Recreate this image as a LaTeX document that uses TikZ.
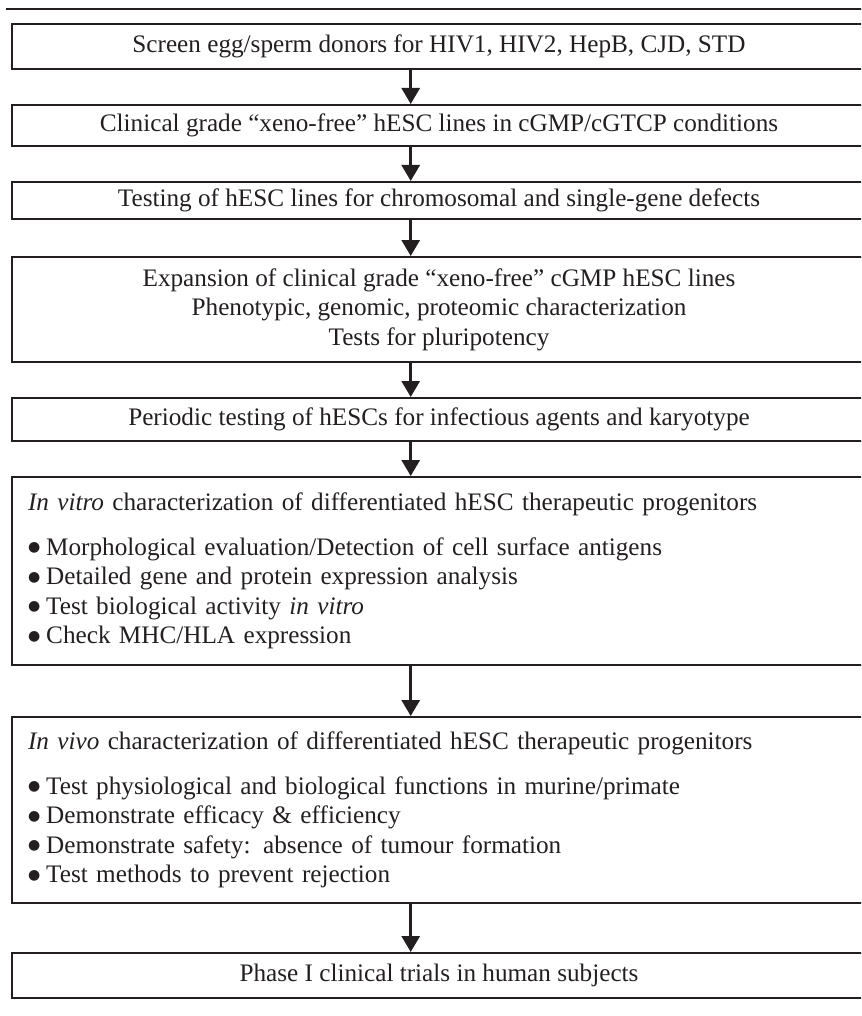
\documentclass[tikz,border=0pt]{standalone}
\usepackage{fontspec}
\setmainfont{Liberation Serif}
\newfontfamily\symfont{DejaVu Sans}
\newcommand\bul{\raisebox{3.5pt}{\symfont\fontsize{14}{14}\selectfont ●}\hspace{6pt}}
\usetikzlibrary{arrows.meta}
\definecolor{ink}{HTML}{231F20}
\begin{document}
\begin{tikzpicture}[x=1pt,y=-1pt,
  box/.style={draw=ink,line width=2pt,rectangle,inner sep=0pt,minimum width=854pt,
    text=ink,font=\fontsize{25.2}{29.5}\selectfont,align=center},
  listbox/.style={box,align=left,text width=822pt},
  arr/.style={draw=ink,line width=3pt,-{Triangle[width=18pt,length=16pt]}},
  rulel/.style={draw=ink,line width=2pt}]
\useasboundingbox (0,0) rectangle (861,1016);
\clip (0,0) rectangle (861,1016);
\coordinate (tl) at (6,9);
\coordinate (tr) at (880,9);
\draw[rulel] (tl) -- (tr);
\node[box,minimum height=45pt] (b1) at (439,46.5) {Screen egg/sperm donors for HIV1, HIV2, HepB, CJD, STD};
\node[box,minimum height=41pt] (b2) at (439,125.5) {Clinical grade “xeno-free” hESC lines in cGMP/cGTCP conditions};
\node[box,minimum height=37pt] (b3) at (439,200.5) {Testing of hESC lines for chromosomal and single-gene defects};
\node[box,minimum height=105pt] (b4) at (439,309.5) {Expansion of clinical grade “xeno-free” cGMP hESC lines\\Phenotypic, genomic, proteomic characterization\\Tests for pluripotency};
\node[box,minimum height=43pt] (b5) at (439,419.5) {Periodic testing of hESCs for infectious agents and karyotype};
\node[listbox,minimum height=188pt] (b6) at (439,571) {\textit{In vitro} characterization of differentiated hESC therapeutic progenitors\\[15.5pt]
\bul Morphological evaluation/Detection of cell surface antigens\\
\bul Detailed gene and protein expression analysis\\
\bul Test biological activity \textit{in vitro}\\
\bul Check MHC/HLA expression};
\node[listbox,minimum height=186pt] (b7) at (439,810) {\textit{In vivo} characterization of differentiated hESC therapeutic progenitors\\[15.5pt]
\bul Test physiological and biological functions in murine/primate\\
\bul Demonstrate efficacy \& efficiency\\
\bul Demonstrate safety: absence of tumour formation\\
\bul Test methods to prevent rejection};
\node[box,minimum height=45pt] (b8) at (439,975.5) {Phase I clinical trials in human subjects};
\coordinate (ax) at (410.7,0);
\foreach \a/\b in {b1/b2,b2/b3,b3/b4,b4/b5,b5/b6,b6/b7,b7/b8}
  \draw[arr] (\a.south -| ax) -- (\b.north -| ax);
\end{tikzpicture}
\end{document}
